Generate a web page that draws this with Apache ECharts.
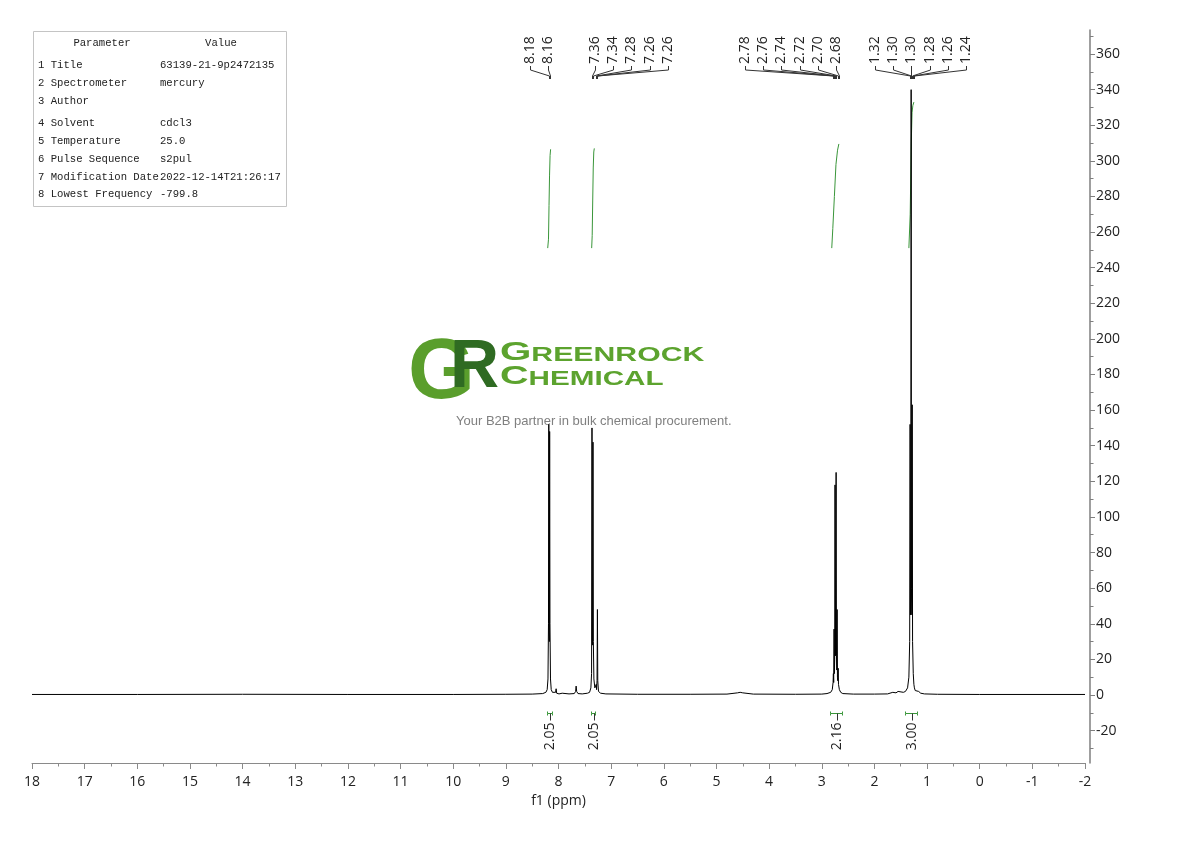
<!DOCTYPE html>
<html><head><meta charset="utf-8">
<script src="https://cdn.jsdelivr.net/npm/echarts@6/dist/echarts.min.js"></script>
<style>html,body{margin:0;padding:0;background:#fff}#c{width:1190px;height:841px}</style>
</head><body><div id="c"></div>
<script>
// ---------------- data ----------------
const xMin = -2, xMax = 18;                 // ppm range (axis inverted)
const yMin = -38.2, yMax = 373.5;           // intensity range
const yTickValues = [-20,0,20,40,60,80,100,120,140,160,180,200,220,240,260,280,300,320,340,360];
const yMinorTickValues = [-30,-10,10,30,50,70,90,110,130,150,170,190,210,230,250,270,290,310,330,350,370];

// spectrum points: [ppm, intensity]
const spectrum = [
[18.00,0.3],[16.0,0.3],[14.0,0.4],[12.0,0.3],[10.0,0.3],[9.0,0.4],[8.5,0.5],[8.30,0.8],
[8.24,1.5],[8.215,3],[8.200,9],[8.190,40],[8.184,152],[8.179,35],[8.174,30],[8.168,148],[8.162,40],[8.152,9],[8.138,3],[8.115,1.5],
[8.08,0.8],[8.055,1.5],[8.045,3.5],[8.035,1],[7.99,0.6],[7.93,1],[7.90,0.5],[7.80,0.6],[7.70,0.8],[7.675,2],[7.665,5],[7.655,2],[7.63,0.8],[7.55,0.6],[7.45,1],
[7.41,1.5],[7.385,4],[7.372,12],[7.364,150],[7.358,32],[7.352,28],[7.345,142],[7.338,30],[7.328,9],[7.31,4],[7.29,3],[7.283,6],[7.277,3],[7.268,8],[7.261,48],[7.254,8],[7.24,2],[7.20,1],[7.10,0.6],
[6.5,0.4],[5.5,0.4],[4.8,0.5],[4.6,1.2],[4.55,1.5],[4.5,1.2],[4.3,0.5],[3.5,0.4],[3.0,0.5],[2.90,0.8],
[2.83,1.5],[2.80,3],[2.785,7],[2.779,12],[2.773,7],[2.766,37],[2.760,12],[2.754,20],[2.748,118],[2.740,22],[2.734,22],[2.727,125],[2.720,22],[2.714,14],[2.708,48],[2.702,10],[2.695,8],[2.688,15],[2.682,6],[2.665,3],[2.64,1.5],[2.60,0.8],[2.4,0.5],
[2.0,0.5],[1.75,0.6],[1.65,1.5],[1.62,2.5],[1.59,1.2],[1.55,2],[1.52,1],[1.45,1.5],[1.41,2],
[1.37,4],[1.345,10],[1.33,30],[1.322,152],[1.315,45],[1.309,60],[1.302,340],[1.296,60],[1.289,45],[1.282,163],[1.275,30],[1.262,12],[1.25,6],[1.24,4],[1.225,2.5],[1.20,1.5],[1.16,2],[1.12,1],[1.05,0.6],[0.8,0.4],[0,0.3],[-2,0.3]
];

// picked peaks (labels at the top)
const peakGroups = [
  [8.18, 8.16],
  [7.36, 7.34, 7.28, 7.26, 7.26],
  [2.78, 2.76, 2.74, 2.72, 2.70, 2.68],
  [1.32, 1.30, 1.30, 1.28, 1.26, 1.24]
];

// integrals
const integralRanges = [[8.21, 8.13], [7.39, 7.31], [2.84, 2.62], [1.41, 1.19]];
const integralValues = ['2.05', '2.05', '2.16', '3.00'];
const integralCurve1 = [[8.205,251],[8.19,256],[8.18,275],[8.17,292],[8.16,303],[8.15,306.5]];
const integralCurve2 = [[7.37,251],[7.36,258],[7.35,278],[7.34,296],[7.33,305],[7.32,307]];
const integralCurve3 = [[2.81,251],[2.79,262],[2.76,280],[2.73,298],[2.70,306],[2.675,309.5]];
const integralCurve4 = [[1.345,251],[1.32,270],[1.30,310],[1.285,327],[1.27,331],[1.25,333]];

// parameter table
const paramNames = ['1 Title','2 Spectrometer','3 Author','4 Solvent','5 Temperature','6 Pulse Sequence','7 Modification Date','8 Lowest Frequency'];
const paramValues = ['63139-21-9p2472135','mercury','','cdcl3','25.0','s2pul','2022-12-14T21:26:17','-799.8'];

// ---------------- layout ----------------
const labelStartPpm = [8.541, 7.307, 4.458, 1.989]; // where each label group starts
const LABEL_STEP = 18.2;
const FONT = '"Open Sans", "Noto Sans", sans-serif';
const GREEN = '#3a963a';

function peakLabelRender(params, api) {
  const g = api.value(2);
  const peaks = peakGroups[g];
  const top = params.coordSys.y;
  const startX = api.coord([labelStartPpm[g], 0])[0];
  const children = [];
  peaks.forEach(function (p, i) {
    const lx = Math.round(startX + i * LABEL_STEP) + 0.5;
    const px = Math.round(api.coord([p, 0])[0]) + 0.5;
    children.push({
      type: 'text', x: lx, y: top + 34, rotation: Math.PI / 2,
      style: { text: p.toFixed(2), font: '14px ' + FONT, fill: '#222',
               align: 'left', verticalAlign: 'middle', textAlign: 'left', textVerticalAlign: 'middle' }
    });
    children.push({
      type: 'polyline',
      shape: { points: [[lx, top + 36], [lx, top + 40], [px, top + 46], [px, top + 49]] },
      style: { stroke: '#333', lineWidth: 1, fill: null }
    });
  });
  return { type: 'group', children: children };
}

function integralLabelRender(params, api) {
  const i = api.value(2);
  const r = integralRanges[i];
  const x1 = Math.round(api.coord([r[0], 0])[0]) + 0.5;
  const x2 = Math.round(api.coord([r[1], 0])[0]) + 0.5;
  const cx = Math.round((x1 + x2) / 2) + 0.5;
  const yb = Math.round(api.coord([0, -10])[1]) + 0.5;
  return {
    type: 'group',
    children: [
      { type: 'polyline', shape: { points: [[x1, yb - 2], [x1, yb], [x2, yb], [x2, yb - 2]] },
        style: { stroke: GREEN, lineWidth: 1, fill: null } },
      { type: 'line', shape: { x1: x1, y1: yb, x2: x1, y2: yb + 2 }, style: { stroke: GREEN, lineWidth: 1 } },
      { type: 'line', shape: { x1: x2, y1: yb, x2: x2, y2: yb + 2 }, style: { stroke: GREEN, lineWidth: 1 } },
      { type: 'line', shape: { x1: cx, y1: yb, x2: cx, y2: yb + 7 }, style: { stroke: '#333', lineWidth: 1 } },
      { type: 'text', x: cx, y: yb + 9, rotation: Math.PI / 2,
        style: { text: integralValues[i], font: '14px ' + FONT, fill: '#222',
                 align: 'right', verticalAlign: 'middle', textAlign: 'right', textVerticalAlign: 'middle' } }
    ]
  };
}

// ---------------- graphic (table + watermark) ----------------
const tableFont = '10.6px "Liberation Mono", "DejaVu Sans Mono", monospace';
const rowY = [65, 83, 101, 123, 141, 159, 177, 194];
const graphics = [
  { type: 'rect', z: 10, shape: { x: 33.5, y: 31.5, width: 253, height: 175 },
    style: { fill: '#fff', stroke: '#c4c4c4', lineWidth: 1 } },
  { type: 'text', z: 11, x: 102, y: 43, style: { text: 'Parameter', font: tableFont, fill: '#222', align: 'center', verticalAlign: 'middle', textAlign: 'center', textVerticalAlign: 'middle' } },
  { type: 'text', z: 11, x: 221, y: 43, style: { text: 'Value', font: tableFont, fill: '#222', align: 'center', verticalAlign: 'middle', textAlign: 'center', textVerticalAlign: 'middle' } }
];
paramNames.forEach(function (n, i) {
  graphics.push({ type: 'text', z: 11, x: 38, y: rowY[i], style: { text: n, font: tableFont, fill: '#222', align: 'left', verticalAlign: 'middle', textAlign: 'left', textVerticalAlign: 'middle' } });
  graphics.push({ type: 'text', z: 11, x: 160, y: rowY[i], style: { text: paramValues[i], font: tableFont, fill: '#222', align: 'left', verticalAlign: 'middle', textAlign: 'left', textVerticalAlign: 'middle' } });
});
// watermark
graphics.push(
  { type: 'text', z: 0, x: 408, y: 374, style: { text: 'G', font: 'bold 86px "Liberation Sans", Arial, sans-serif', fill: '#5a9e2c', align: 'left', verticalAlign: 'middle', textAlign: 'left', textVerticalAlign: 'middle' } },
  { type: 'text', z: 0, x: 450, y: 368, style: { text: 'R', font: 'bold 68px "Liberation Sans", Arial, sans-serif', fill: '#2f6b22', align: 'left', verticalAlign: 'middle', textAlign: 'left', textVerticalAlign: 'middle' } },
  { type: 'text', z: 0, x: 500, y: 366, scaleX: 1.55, style: { text: '{a|G}{b|REENROCK}', align: 'left', verticalAlign: 'bottom', textAlign: 'left', textVerticalAlign: 'bottom',
      rich: { a: { font: 'bold 26px "Liberation Sans", Arial, sans-serif', fill: '#5ca32e', verticalAlign: 'bottom' },
              b: { font: 'bold 19.5px "Liberation Sans", Arial, sans-serif', fill: '#5ca32e', verticalAlign: 'bottom' } } } },
  { type: 'text', z: 0, x: 500, y: 390, scaleX: 1.52, style: { text: '{a|C}{b|HEMICAL}', align: 'left', verticalAlign: 'bottom', textAlign: 'left', textVerticalAlign: 'bottom',
      rich: { a: { font: 'bold 26px "Liberation Sans", Arial, sans-serif', fill: '#5ca32e', verticalAlign: 'bottom' },
              b: { font: 'bold 19.5px "Liberation Sans", Arial, sans-serif', fill: '#5ca32e', verticalAlign: 'bottom' } } } },
  { type: 'text', z: 0, x: 456, y: 421, style: { text: 'Your B2B partner in bulk chemical procurement.', font: '13px "Liberation Sans", Arial, sans-serif', fill: '#808080', align: 'left', verticalAlign: 'middle', textAlign: 'left', textVerticalAlign: 'middle' } }
);

// ---------------- chart ----------------
const chart = echarts.init(document.getElementById('c'), null, { renderer: 'canvas' });
const integralSeries = [integralCurve1, integralCurve2, integralCurve3, integralCurve4].map(function (d) {
  return { type: 'line', data: d, showSymbol: false, symbol: 'none', silent: true, z: 3,
           lineStyle: { color: GREEN, width: 1 }, animation: false };
});
chart.setOption({
  animation: false,
  backgroundColor: '#fff',
  grid: { left: 32, right: 105, top: 30, bottom: 78 },
  xAxis: {
    type: 'value', inverse: true, min: xMin, max: xMax, interval: 1,
    name: 'f1 (ppm)', nameLocation: 'middle', nameGap: 28,
    nameTextStyle: { fontFamily: FONT, fontSize: 14, color: '#222' },
    axisLine: { show: true, onZero: false, lineStyle: { color: '#8a8a8a', width: 1 } },
    axisTick: { show: true, length: 6, lineStyle: { color: '#8a8a8a' } },
    minorTick: { show: true, splitNumber: 2, length: 3.5, lineStyle: { color: '#8a8a8a' } },
    axisLabel: { margin: 12, fontFamily: FONT, fontSize: 14, color: '#222' },
    splitLine: { show: false }
  },
  yAxis: [{
    type: 'value', position: 'right', min: yMin, max: yMax, offset: 5,
    axisLine: { show: true, onZero: false, lineStyle: { color: '#7f7f7f', width: 1.5 } },
    axisTick: { show: true, length: 5, customValues: yTickValues, lineStyle: { color: '#7f7f7f' } },
    axisLabel: { margin: 6, customValues: yTickValues, fontFamily: FONT, fontSize: 14, color: '#222' },
    splitLine: { show: false }
  }, {
    type: 'value', position: 'right', min: yMin, max: yMax, offset: 5,
    axisLine: { show: false, onZero: false },
    axisTick: { show: true, length: 3.5, customValues: yMinorTickValues, lineStyle: { color: '#7f7f7f' } },
    axisLabel: { show: false },
    splitLine: { show: false }
  }],
  graphic: graphics,
  series: [
    { type: 'line', data: spectrum, showSymbol: false, symbol: 'none', silent: true, z: 4,
      sampling: null, lineStyle: { color: '#000', width: 1 }, animation: false },
    ...integralSeries,
    { type: 'custom', renderItem: peakLabelRender, silent: true, z: 5,
      data: peakGroups.map(function (g, i) { return [g[0], 0, i]; }), encode: { x: 0, y: 1 } },
    { type: 'custom', renderItem: integralLabelRender, silent: true, z: 5,
      data: integralRanges.map(function (r, i) { return [r[0], 0, i]; }), encode: { x: 0, y: 1 } }
  ]
});
</script>
</body></html>
